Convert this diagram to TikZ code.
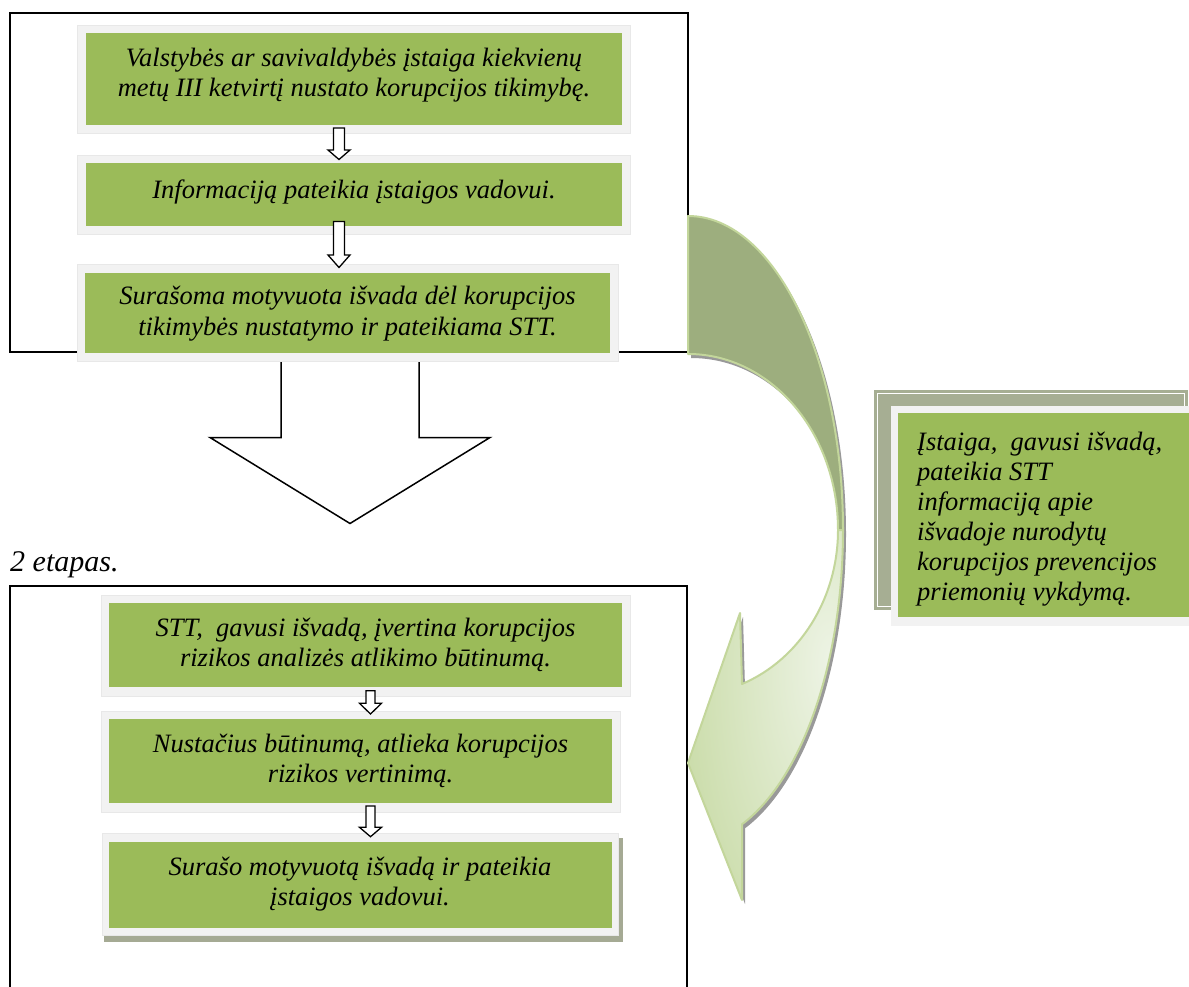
\documentclass[tikz,border=0pt]{standalone}
\usepackage{fontspec}
\setmainfont{Liberation Serif}
\definecolor{grn}{HTML}{9BBB59}
\definecolor{frm}{HTML}{F2F2F2}
\definecolor{darkband}{HTML}{9DAE7E}
\definecolor{bandedge}{HTML}{C3D69B}
\definecolor{bandlight}{HTML}{EEF4E6}
\definecolor{bandgreen}{HTML}{C4D89F}
\definecolor{backfrm}{HTML}{A6AE93}
\definecolor{shadowc}{HTML}{A5AA94}
\pgfdeclareradialshading{bandshade}{\pgfpoint{22bp}{7bp}}{color(0bp)=(bandlight); color(48bp)=(bandgreen); color(100bp)=(bandgreen)}
\newcommand\dnarrow[6]{%
  \draw[blk] (#1-#5,#2) -- (#1-#5,#3) -- (#1-#6,#3) -- (#1,#4) -- (#1+#6,#3) -- (#1+#5,#3) -- (#1+#5,#2) -- cycle;}
\def\darkbandpath{(688,216) arc[start angle=-90, end angle=0, x radius=155, y radius=314] -- (838,530) arc[start angle=0, end angle=-90, x radius=150, y radius=176] -- cycle}
\def\lightbandpath{(843,530) arc[start angle=0, end angle=69.6, x radius=155, y radius=314] -- (742,900) -- (688,763) -- (740,613) -- (742,684) arc[start angle=68.9, end angle=0, x radius=150, y radius=165] -- cycle}
\begin{document}
\begin{tikzpicture}[x=1pt,y=-1pt,
  frame/.style={fill=frm, draw=black!9, line width=0.6pt},
  gbox/.style={fill=grn},
  txt/.style={font=\fontsize{26.5}{30.5}\selectfont\itshape, align=center, inner sep=0pt},
  sidetxt/.style={font=\fontsize{26.5}{30}\selectfont\itshape, align=left, inner sep=0pt},
  blk/.style={draw=black, fill=white, line width=1.3pt, line join=miter},
  outer/.style={draw=black, line width=1.4pt}]
\useasboundingbox (0,0) rectangle (1189,987);
\fill[white] (0,0) rectangle (1189,987);

% outer frames of the two stages
\draw[outer] (10,13) rectangle (688,352);
\draw[outer] (10,987) -- (10,586) -- (687,586) -- (687,987);

% big hollow arrow between stages
\draw[blk, line width=1.5pt] (281,358) -- (281,437.5) -- (210,437.5) -- (350,523.5) -- (490,437.5) -- (419,437.5) -- (419,358) -- cycle;

% stage 1 boxes
\draw[frame] (77,25.5) rectangle (630,133);
\fill[grn] (86,33.3) rectangle (622,125);
\node[txt] (s1) at (354,75) {Valstybės ar savivaldybės įstaiga kiekvienų\\metų III ketvirtį nustato korupcijos tikimybę.};

\draw[frame] (77,155) rectangle (630,234);
\fill[grn] (86,163.3) rectangle (622,226);
\node[txt] (s2) at (354,191.5) {Informaciją pateikia įstaigos vadovui.};

\draw[frame] (77,264) rectangle (618,361);
\fill[grn] (85,272.7) rectangle (610,352.7);
\node[txt] (s3) at (347.5,313.5) {Surašoma motyvuota išvada dėl korupcijos\\tikimybės nustatymo ir pateikiama STT.};

\dnarrow{339}{128}{150}{159.5}{5.5}{11}
\dnarrow{339}{221.5}{255}{267.5}{5.5}{11}

% stage 2 label
\node[font=\fontsize{30}{34}\selectfont\itshape, anchor=base west, inner sep=0pt] (etapas) at (10,571.7) {2 etapas.};

% stage 2 boxes
\draw[frame] (101,595) rectangle (630,696);
\fill[grn] (109,603) rectangle (622,687);
\node[txt] (s4) at (365.5,645) {STT,\ \ gavusi išvadą, įvertina korupcijos\\rizikos analizės atlikimo būtinumą.};

\draw[frame] (101,711) rectangle (620,812);
\fill[grn] (109,719) rectangle (612,803);
\node[txt] (s5) at (360.5,761) {Nustačius būtinumą, atlieka korupcijos\\rizikos vertinimą.};

\fill[shadowc] (104,838) rectangle (622.5,942);
\draw[frame] (102,833) rectangle (618.6,935);
\fill[grn] (109,842) rectangle (611.7,928);
\node[txt] (s6) at (360,884) {Surašo motyvuotą išvadą ir pateikia\\įstaigos vadovui.};

\dnarrow{370.5}{690.7}{703.3}{714}{4.5}{11}
\dnarrow{370.5}{806}{827.3}{836.7}{4.5}{11}

% curved arrow: shadow, back part, front part
\begin{scope}[shift={(3,4)}]
  \fill[black!40] \darkbandpath;
  \fill[black!40] \lightbandpath;
\end{scope}
\path[fill=darkband, draw=bandedge, line width=2pt, line join=round] \darkbandpath;
\path[shading=bandshade, draw=bandedge, line width=2pt, line join=round] \lightbandpath;

% side box
\fill[backfrm] (874,390) rectangle (1188,610);
\draw[white, line width=0.8pt] (877.5,393.5) rectangle (1184.5,606.5);
\fill[frm] (891,406) rectangle (1189,626);
\fill[grn] (898,413) rectangle (1189,617);
\node[sidetxt, anchor=north west] (info) at (917,432) {Įstaiga,\ \ gavusi išvadą,\\pateikia STT\\informaciją apie\\išvadoje nurodytų\\korupcijos prevencijos\\priemonių vykdymą.};
\end{tikzpicture}
\end{document}
